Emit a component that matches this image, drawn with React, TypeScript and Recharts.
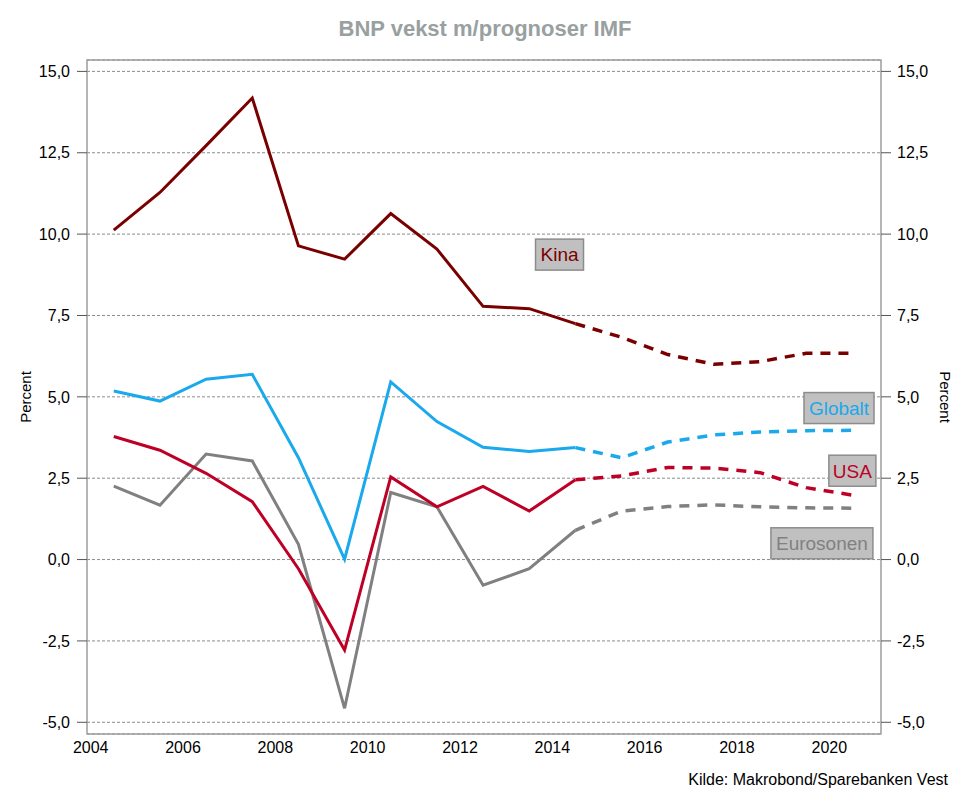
import React from 'react';
import { LineChart, Line, XAxis, YAxis, CartesianGrid, ReferenceArea, ReferenceDot } from 'recharts';

// ---- Data ----
const years = [2004.5, 2005.5, 2006.5, 2007.5, 2008.5, 2009.5, 2010.5, 2011.5, 2012.5, 2013.5, 2014.5, 2015.5, 2016.5, 2017.5, 2018.5, 2019.5, 2020.5];
const forecastFrom = 2014.5;

const kina = [10.12, 11.28, 12.72, 14.18, 9.64, 9.23, 10.63, 9.54, 7.78, 7.71, 7.25, 6.83, 6.3, 6.0, 6.08, 6.34, 6.34];
const globalt = [5.18, 4.87, 5.54, 5.69, 3.13, 0.01, 5.46, 4.24, 3.45, 3.32, 3.44, 3.13, 3.61, 3.83, 3.92, 3.96, 3.97];
const usa = [3.78, 3.36, 2.65, 1.78, -0.28, -2.78, 2.54, 1.62, 2.25, 1.49, 2.45, 2.57, 2.83, 2.81, 2.67, 2.21, 1.98];
const eurosonen = [2.26, 1.67, 3.24, 3.03, 0.47, -4.57, 2.06, 1.62, -0.79, -0.28, 0.9, 1.49, 1.63, 1.68, 1.62, 1.59, 1.58];

const xTicks = [2004, 2006, 2008, 2010, 2012, 2014, 2016, 2018, 2020];
const yTicks = [-5, -2.5, 0, 2.5, 5, 7.5, 10, 12.5, 15];

const X_DOMAIN: [number, number] = [2003.92, 2021.12];
const Y_DOMAIN: [number, number] = [-5.36, 15.35];

const series = [
  { key: 'eurosonen', values: eurosonen, color: '#808080' },
  { key: 'usa', values: usa, color: '#BE0026' },
  { key: 'globalt', values: globalt, color: '#1AA9EC' },
  { key: 'kina', values: kina, color: '#7A0000' },
];

const data = years.map((year, i) => {
  const row: Record<string, number | null> = { year };
  series.forEach((s) => {
    row[s.key + 'Hist'] = year <= forecastFrom ? s.values[i] : null;
    row[s.key + 'Prog'] = year >= forecastFrom ? s.values[i] : null;
  });
  return row;
});

const seriesLabels = [
  { text: 'Kina', x: 2014.156, y: 9.37, w: 48, color: '#7A0000' },
  { text: 'Globalt', x: 2020.21, y: 4.655, w: 70, color: '#1AA9EC' },
  { text: 'USA', x: 2020.5, y: 2.73, w: 47, color: '#BE0026' },
  { text: 'Eurosonen', x: 2019.84, y: 0.5, w: 102, color: '#808080' },
];

const fmt = (v: number) => v.toFixed(1).replace('.', ',');

const makeBox = (l: { text: string; w: number; color: string }) => (props: any) => {
  const { cx, cy } = props;
  if (cx == null || cy == null) return <g />;
  return (
    <g>
      <rect x={cx - l.w / 2} y={cy - 15.5} width={l.w} height={31} fill="#C0C0C0" stroke="#8C8C8C" strokeWidth={1.5} />
      <text x={cx} y={cy + 6.8} textAnchor="middle" fontSize={19} fill={l.color}>
        {l.text}
      </text>
    </g>
  );
};

export default function App() {
  return (
    <div
      style={{
        position: 'absolute',
        left: 0,
        top: 0,
        width: 959,
        height: 805,
        background: '#fff',
        fontFamily: '"Liberation Sans", Arial, sans-serif',
      }}
    >
      <LineChart width={959} height={805} data={data} margin={{ top: 60, right: 0, bottom: 0, left: 0 }}>
        <CartesianGrid vertical={false} stroke="#8C8C8C" strokeDasharray="3 2" />
        <XAxis
          type="number"
          dataKey="year"
          domain={X_DOMAIN}
          ticks={xTicks}
          allowDataOverflow
          height={71}
          tickLine={false}
          axisLine={false}
          tickSize={0}
          tickMargin={8}
          tick={{ fill: '#000', fontSize: 16 }}
        />
        <YAxis
          type="number"
          domain={Y_DOMAIN}
          ticks={yTicks}
          allowDataOverflow
          width={87}
          axisLine={false}
          tickLine={{ stroke: '#555' }}
          tickSize={10}
          tickMargin={7}
          tickFormatter={fmt}
          tick={{ fill: '#000', fontSize: 16 }}
        />
        <YAxis
          yAxisId="right"
          orientation="right"
          type="number"
          domain={Y_DOMAIN}
          ticks={yTicks}
          allowDataOverflow
          width={78}
          axisLine={false}
          tickLine={{ stroke: '#555' }}
          tickSize={10}
          tickMargin={6}
          tickFormatter={fmt}
          tick={{ fill: '#000', fontSize: 16, textAnchor: 'start' }}
        />
        <ReferenceArea
          x1={X_DOMAIN[0]}
          x2={X_DOMAIN[1]}
          y1={Y_DOMAIN[0]}
          y2={Y_DOMAIN[1]}
          fill="none"
          fillOpacity={0}
          stroke="#9A9E9E"
          strokeWidth={1.5}
          ifOverflow="visible"
        />
        {series.map((s) => (
          <Line
            key={s.key + 'Hist'}
            type="linear"
            dataKey={s.key + 'Hist'}
            stroke={s.color}
            strokeWidth={3}
            dot={false}
            activeDot={false}
            connectNulls={false}
            isAnimationActive={false}
          />
        ))}
        {series.map((s) => (
          <Line
            key={s.key + 'Prog'}
            type="linear"
            dataKey={s.key + 'Prog'}
            stroke={s.color}
            strokeWidth={3.5}
            strokeDasharray="10 8"
            dot={false}
            activeDot={false}
            connectNulls={false}
            isAnimationActive={false}
          />
        ))}
        {seriesLabels.map((l) => (
          <ReferenceDot key={l.text} x={l.x} y={l.y} r={0} ifOverflow="visible" shape={makeBox(l)} />
        ))}
      </LineChart>

      <div
        style={{
          position: 'absolute',
          left: 0,
          width: 970,
          top: 18,
          textAlign: 'center',
          fontSize: 22,
          lineHeight: '22px',
          fontWeight: 'bold',
          color: '#98A0A0',
        }}
      >
        BNP vekst m/prognoser IMF
      </div>
      <div
        style={{
          position: 'absolute',
          left: 24.5,
          top: 397,
          transform: 'translate(-50%, -50%) rotate(-90deg)',
          fontSize: 15,
          lineHeight: '15px',
          whiteSpace: 'nowrap',
          color: '#000',
        }}
      >
        Percent
      </div>
      <div
        style={{
          position: 'absolute',
          left: 945,
          top: 397,
          transform: 'translate(-50%, -50%) rotate(90deg)',
          fontSize: 15,
          lineHeight: '15px',
          whiteSpace: 'nowrap',
          color: '#000',
        }}
      >
        Percent
      </div>
      <div
        style={{
          position: 'absolute',
          right: 11,
          top: 771.5,
          fontSize: 16,
          lineHeight: '16px',
          whiteSpace: 'nowrap',
          color: '#000',
        }}
      >
        Kilde: Makrobond/Sparebanken Vest
      </div>
    </div>
  );
}
